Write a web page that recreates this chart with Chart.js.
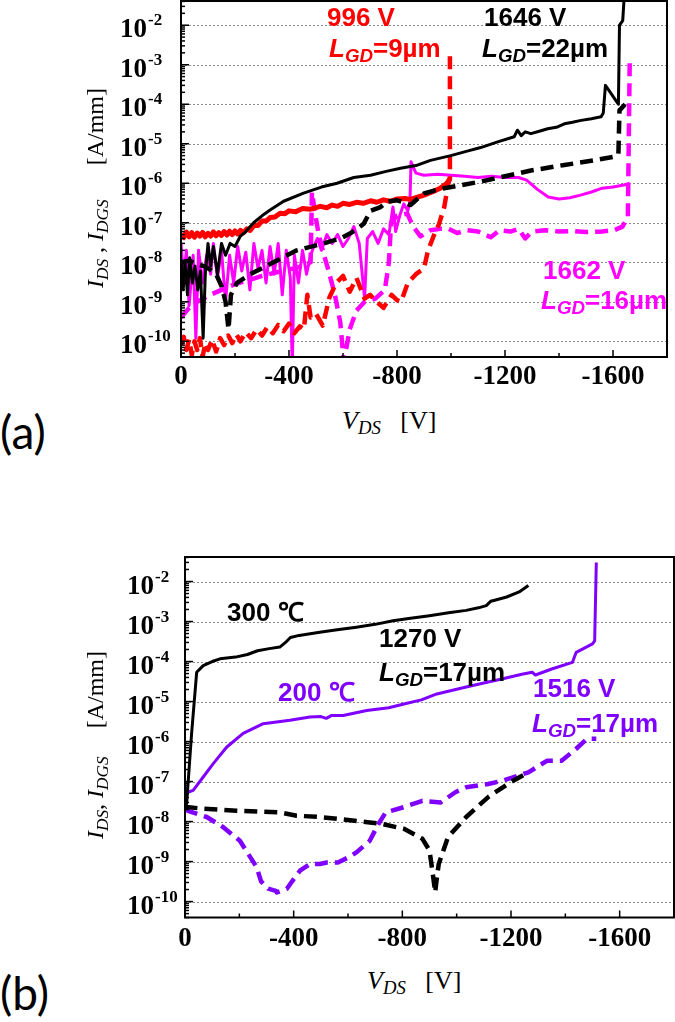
<!DOCTYPE html>
<html lang="en">
<head>
    <meta charset="UTF-8">
    <title>Off-state leakage and breakdown</title>
    <script src="https://cdn.jsdelivr.net/npm/chart.js"></script>
    <style>
        body {
            margin: 0;
            background: #fff;
            width: 675px;
            height: 1022px;
            position: relative;
            overflow: hidden;
        }
        .panel { position: absolute; left: 0; width: 675px; }
        #boxA { top: 0; height: 400px; }
        #boxB { top: 530px; height: 430px; }
        .lab {
            position: absolute;
            font: bold 26px "Liberation Sans", Arial, sans-serif;
            line-height: 1;
            white-space: nowrap;
        }
        .lab sub, .ttl sub { font-size: 0.72em; vertical-align: -0.28em; line-height: 0; }
        .ttl {
            position: absolute;
            font: 24px "Liberation Serif", "Times New Roman", serif;
            line-height: 1;
            white-space: nowrap;
        }
        .ytl { transform: translate(-50%, -50%) rotate(-90deg); }
        .tag { position: absolute; left: 0; font: 46px Lato, sans-serif; line-height: 1; }
    </style>
</head>
<body>
    <div class="panel" id="boxA"><canvas id="chartA"></canvas></div>
    <div class="panel" id="boxB"><canvas id="chartB"></canvas></div>

    <!-- panel (a) text -->
    <div class="lab" style="left:327px; top:4px; color:#ff0000">996 V</div>
    <div class="lab" style="left:329px; top:35px; color:#ff0000"><i>L</i><sub><i>GD</i></sub>=9µm</div>
    <div class="lab" style="left:484px; top:4px">1646 V</div>
    <div class="lab" style="left:482px; top:35px"><i>L</i><sub><i>GD</i></sub>=22µm</div>
    <div class="lab" style="left:543px; top:257px; color:#ff00ff">1662 V</div>
    <div class="lab" style="left:541px; top:287px; color:#ff00ff"><i>L</i><sub><i>GD</i></sub>=16µm</div>
    <div class="ttl ytl" style="left:95px; top:188px"><i>I</i><sub><i>DS</i></sub> , <i>I</i><sub><i>DGS</i></sub><span style="margin-left:34px">[A/mm]</span></div>
    <div class="ttl" style="left:342px; top:408px; font-size:26px"><i>V</i><sub><i>DS</i></sub>&nbsp;&nbsp;&nbsp;[V]</div>
    <div class="tag" style="top:409px">(a)</div>

    <!-- panel (b) text -->
    <div class="lab" style="left:227px; top:599px">300 ℃</div>
    <div class="lab" style="left:379px; top:625px">1270 V</div>
    <div class="lab" style="left:379px; top:659px"><i>L</i><sub><i>GD</i></sub>=17µm</div>
    <div class="lab" style="left:278px; top:679px; color:#7f00ff">200 ℃</div>
    <div class="lab" style="left:533px; top:675px; color:#7f00ff">1516 V</div>
    <div class="lab" style="left:532px; top:710px; color:#7f00ff"><i>L</i><sub><i>GD</i></sub>=17µm</div>
    <div class="ttl ytl" style="left:95px; top:745px"><i>I</i><sub><i>DS</i></sub>, <i>I</i><sub><i>DGS</i></sub><span style="margin-left:28px">[A/mm]</span></div>
    <div class="ttl" style="left:367px; top:968px; font-size:26px"><i>V</i><sub><i>DS</i></sub>&nbsp;&nbsp;&nbsp;[V]</div>
    <div class="tag" style="top:970px">(b)</div>

    <script>
        // axes
        const xMin = -1800, xMax = 0;
        const yMin = 4e-11, yMax = 4.1e-2;
        const xTicks = [0, -400, -800, -1200, -1600];
        const yExps = [-10, -9, -8, -7, -6, -5, -4, -3, -2];

        // (a) LGD = 22 um, IDS (solid) / IDGS (dashed)
        const a22V = [0, -8, -16, -24, -32, -42, -52, -62, -72, -82, -90, -100, -110, -120, -135, -150, -165, -182, -200, -219, -240, -269, -300, -330, -380, -454, -520, -578, -640, -702, -760, -813, -870, -924, -999, -1060, -1110, -1170, -1234, -1246, -1260, -1275, -1296, -1330, -1358, -1390, -1420, -1450, -1482, -1520, -1556, -1564, -1572, -1590, -1612, -1620, -1624, -1636, -1642];
        const a22I = [1.2e-8, 2e-9, 9e-9, 1.5e-9, 1.3e-8, 3e-9, 8e-9, 2e-9, 6e-9, 1.2e-10, 5e-9, 3e-8, 8e-9, 2.5e-8, 5e-9, 3e-8, 1.5e-8, 3e-8, 2.5e-8, 4.5e-8, 6e-8, 1e-7, 1.5e-7, 2.1e-7, 3.5e-7, 5.6e-7, 8e-7, 1e-6, 1.4e-6, 1.6e-6, 2e-6, 2.4e-6, 2.8e-6, 3.8e-6, 5e-6, 6.5e-6, 8e-6, 1.1e-5, 1.5e-5, 2.2e-5, 1.6e-5, 2e-5, 1.8e-5, 2.1e-5, 2.4e-5, 2.6e-5, 3.2e-5, 3.5e-5, 3.9e-5, 4.3e-5, 4.8e-5, 6e-5, 3e-4, 2e-4, 1.2e-4, 1e-4, 1e-2, 1.3e-2, 6e-2];
        const a22gV = [0, -30, -58, -85, -108, -130, -150, -165, -176, -185, -207, -256, -330, -429, -528, -590, -627, -652, -677, -702, -739, -763, -800, -825, -850, -875, -900, -961, -1040, -1110, -1200, -1296, -1420, -1530, -1605, -1620, -1624, -1645];
        const a22gI = [1e-8, 1.1e-8, 9e-9, 8e-9, 6.5e-9, 5e-9, 2.5e-9, 1e-9, 2e-10, 1.5e-9, 3e-9, 5e-9, 9e-9, 2e-8, 3e-8, 4e-8, 5.4e-8, 7e-8, 9.5e-8, 2e-7, 2.5e-7, 3.4e-7, 3.7e-7, 3.3e-7, 2.8e-7, 4e-7, 5.5e-7, 7.2e-7, 9e-7, 1.1e-6, 1.5e-6, 2.1e-6, 2.9e-6, 3.8e-6, 4.7e-6, 5.5e-6, 7e-5, 1e-4];

        // (a) LGD = 9 um
        const a9V = [0, -10, -20, -30, -40, -50, -60, -70, -80, -90, -100, -110, -120, -130, -140, -150, -160, -170, -180, -190, -200, -210, -220, -232, -244, -256, -270, -285, -300, -315, -330, -348, -367, -385, -400, -425, -450, -480, -516, -540, -560, -580, -600, -625, -650, -675, -702, -725, -750, -775, -800, -830, -850, -870, -900, -930, -960, -985, -996];
        const a9I = [5.2e-8, 4.2e-8, 5.8e-8, 4.4e-8, 5.6e-8, 4.3e-8, 5.5e-8, 4.6e-8, 5.7e-8, 4.4e-8, 5.4e-8, 4.6e-8, 5.9e-8, 4.7e-8, 5.6e-8, 4.8e-8, 6e-8, 4.9e-8, 6.1e-8, 5e-8, 6.2e-8, 5.2e-8, 6.4e-8, 5.6e-8, 7e-8, 6.4e-8, 8.5e-8, 8.5e-8, 1.1e-7, 1.1e-7, 1.35e-7, 1.4e-7, 1.75e-7, 1.7e-7, 2e-7, 1.9e-7, 2.3e-7, 2.2e-7, 2.6e-7, 2.4e-7, 2.8e-7, 2.6e-7, 3.1e-7, 2.9e-7, 3.3e-7, 3.1e-7, 3.6e-7, 3.3e-7, 3.8e-7, 3.5e-7, 4e-7, 4.1e-7, 3.9e-7, 4.3e-7, 5e-7, 6e-7, 7.5e-7, 1e-6, 1.3e-6];
        const a9gV = [0, -10, -20, -30, -40, -50, -60, -70, -80, -90, -100, -115, -130, -145, -160, -175, -190, -205, -220, -240, -260, -280, -300, -320, -340, -360, -380, -400, -420, -440, -455, -468, -480, -500, -525, -550, -575, -600, -625, -650, -680, -700, -725, -750, -780, -800, -815, -840, -870, -900, -915, -935, -955, -975, -990, -996, -996];
        const a9gI = [8e-11, 1.3e-10, 6e-11, 1.1e-10, 4.5e-11, 1e-10, 6e-11, 1.2e-10, 4e-11, 9e-11, 6e-11, 1.1e-10, 5.5e-11, 1.2e-10, 8e-11, 1.4e-10, 9e-11, 1.5e-10, 1e-10, 1.7e-10, 1.2e-10, 2e-10, 1.4e-10, 2.3e-10, 1.6e-10, 2.6e-10, 1.8e-10, 2.8e-10, 1.6e-10, 2.4e-10, 2e-10, 1.5e-9, 4e-10, 5e-10, 2.5e-10, 1.3e-9, 3e-9, 4.5e-9, 1.8e-9, 4e-9, 1.2e-9, 1.5e-9, 1e-9, 7e-10, 1.5e-9, 1.1e-9, 1e-9, 3e-9, 5e-9, 7e-9, 2e-8, 4.5e-8, 9e-8, 2.5e-7, 1e-6, 1.3e-6, 2.1e-3];

        // (a) LGD = 16 um
        const a16V = [0, -10, -20, -30, -45, -55, -65, -80, -95, -110, -120, -135, -150, -165, -180, -195, -210, -225, -240, -255, -270, -285, -300, -315, -330, -345, -360, -375, -390, -405, -412, -420, -435, -450, -465, -480, -492, -505, -520, -540, -560, -580, -600, -620, -640, -660, -680, -690, -710, -730, -750, -770, -785, -795, -810, -825, -840, -848, -852, -870, -900, -950, -1000, -1050, -1100, -1150, -1200, -1250, -1280, -1320, -1360, -1400, -1440, -1480, -1520, -1560, -1600, -1640, -1662];
        const a16I = [3e-8, 4e-9, 2e-8, 8e-10, 1.5e-8, 1.2e-10, 2e-8, 3e-9, 1.5e-8, 5e-9, 3e-8, 4e-9, 2e-8, 1e-9, 1.5e-8, 3e-9, 2.5e-8, 6e-9, 1.8e-8, 2e-9, 3e-8, 7e-9, 2e-8, 3e-9, 2.5e-8, 5e-9, 3e-8, 1.5e-9, 2e-8, 4e-9, 2e-11, 1.5e-8, 3e-9, 2e-8, 5e-9, 1.5e-8, 2.5e-8, 4e-8, 2e-8, 5e-8, 3e-8, 5e-8, 2.5e-8, 4e-8, 8e-8, 3e-8, 1.2e-9, 4e-8, 6e-8, 3e-8, 7e-8, 5e-8, 2.5e-7, 6e-8, 1.5e-7, 3e-7, 2e-7, 3.5e-7, 3.5e-6, 1.8e-6, 1.6e-6, 1.7e-6, 1.6e-6, 1.5e-6, 1.4e-6, 1.5e-6, 1.4e-6, 1.4e-6, 1.2e-6, 7e-7, 4.5e-7, 4e-7, 4.3e-7, 5e-7, 6e-7, 7.5e-7, 8e-7, 9e-7, 1e-6];
        const a16gV = [0, -30, -60, -100, -150, -200, -250, -300, -350, -400, -450, -480, -485, -495, -510, -530, -550, -570, -590, -603, -625, -650, -680, -720, -755, -770, -778, -800, -838, -860, -887, -924, -960, -992, -1023, -1060, -1100, -1147, -1180, -1220, -1250, -1275, -1300, -1350, -1400, -1450, -1500, -1560, -1605, -1635, -1655, -1662];
        const a16gI = [4e-10, 7e-10, 1e-9, 1.4e-9, 2e-9, 2.8e-9, 3.5e-9, 4.5e-9, 5.5e-9, 6.5e-9, 8e-9, 1e-8, 6e-7, 2e-7, 5e-8, 1.5e-8, 5e-9, 1.5e-9, 3e-10, 3e-11, 2e-10, 6e-10, 1e-9, 1.2e-9, 2e-9, 1e-8, 1e-7, 1.5e-7, 1.7e-7, 8e-8, 4.5e-8, 6.5e-8, 7e-8, 7e-8, 5.5e-8, 6.5e-8, 6e-8, 4.3e-8, 6.5e-8, 6e-8, 7e-8, 4e-8, 6e-8, 6.5e-8, 6e-8, 6.2e-8, 5.8e-8, 6e-8, 6.5e-8, 8e-8, 1.4e-7, 1.4e-3];

        // (b) LGD = 17 um at 300 C
        const b300V = [0, -6, -24, -43, -67, -100, -129, -186, -230, -267, -310, -349, -370, -388, -420, -496, -560, -631, -700, -766, -830, -900, -970, -1035, -1080, -1109, -1125, -1140, -1184, -1230, -1264];
        const b300I = [2.3e-8, 2.8e-8, 1.5e-6, 5.4e-5, 7.9e-5, 1e-4, 1.17e-4, 1.29e-4, 1.5e-4, 1.86e-4, 2.1e-4, 2.3e-4, 3e-4, 4e-4, 4.5e-4, 5.4e-4, 6.2e-4, 7.2e-4, 8.5e-4, 1.05e-3, 1.2e-3, 1.4e-3, 1.65e-3, 1.9e-3, 2.2e-3, 2.5e-3, 3.2e-3, 3.4e-3, 4.1e-3, 5.5e-3, 7.9e-3];
        const b300gV = [0, -6, -67, -190, -349, -411, -496, -600, -680, -725, -806, -874, -900, -912, -921, -925, -934, -968, -1035, -1116, -1197, -1264];
        const b300gI = [2.5e-8, 2.3e-8, 2.1e-8, 1.86e-8, 1.7e-8, 1.4e-8, 1.3e-8, 1.1e-8, 9.5e-9, 8.7e-9, 6.6e-9, 3.7e-9, 1.9e-9, 5e-10, 1.7e-10, 3e-10, 8.7e-10, 4.1e-9, 1.3e-8, 4.1e-8, 9.5e-8, 1.7e-7];

        // (b) LGD = 17 um at 200 C
        const b200V = [-5, -11, -30, -67, -104, -153, -214, -288, -386, -460, -500, -520, -540, -582, -669, -750, -806, -870, -927, -1035, -1100, -1170, -1240, -1278, -1290, -1350, -1426, -1440, -1500, -1508, -1514];
        const b200I = [5e-8, 5.4e-8, 6e-8, 1.3e-7, 2.8e-7, 7.2e-7, 1.6e-6, 2.8e-6, 3.4e-6, 4.1e-6, 4.2e-6, 3.8e-6, 4.5e-6, 4.5e-6, 6e-6, 7e-6, 8.7e-6, 1.1e-5, 1.55e-5, 2.3e-5, 2.9e-5, 3.7e-5, 4.8e-5, 5.4e-5, 4.6e-5, 6.5e-5, 9.5e-5, 1.7e-4, 2.75e-4, 3.3e-4, 3e-2];
        const b200gV = [0, -11, -80, -141, -202, -264, -280, -306, -334, -338, -375, -388, -423, -460, -496, -522, -563, -600, -631, -680, -712, -739, -806, -874, -941, -995, -1035, -1116, -1170, -1264, -1332, -1386, -1440, -1480, -1514];
        const b200gI = [2e-8, 1.86e-8, 1.3e-8, 7.2e-9, 3.3e-9, 7.2e-10, 3.2e-10, 2.1e-10, 1.86e-10, 1.7e-10, 2.1e-10, 2.8e-10, 5.9e-10, 8.7e-10, 8.7e-10, 9.5e-10, 9.5e-10, 1.26e-9, 1.7e-9, 3.3e-9, 8.7e-9, 1.7e-8, 2.3e-8, 3.3e-8, 3e-8, 5.4e-8, 7.2e-8, 8.7e-8, 1.05e-7, 1.7e-7, 3.3e-7, 3.3e-7, 6.6e-7, 1.17e-6, 1.17e-6];

        const pts = (V, I) => V.map((v, k) => ({ x: v, y: I[k] }));
        const solid = (V, I, color, w) => ({ data: pts(V, I), borderColor: color, borderWidth: w || 3, fill: false });
        const dashed = (V, I, color) => ({ data: pts(V, I), borderColor: color, borderWidth: 4.5, borderDash: [13, 7], fill: false });

        // dotted decade grid, inward ticks, frame and 10^n labels
        const framePlugin = {
            id: 'frame',
            beforeDatasetsDraw(chart) {
                const { ctx, chartArea: a, scales: { y } } = chart;
                ctx.save();
                ctx.strokeStyle = '#8a8a8a';
                ctx.lineWidth = 1;
                ctx.setLineDash([2, 2]);
                yExps.forEach(e => {
                    const py = Math.round(y.getPixelForValue(Math.pow(10, e))) + 0.5;
                    ctx.beginPath();
                    ctx.moveTo(a.left, py);
                    ctx.lineTo(a.right, py);
                    ctx.stroke();
                });
                ctx.restore();
            },
            afterDatasetsDraw(chart, args, opts) {
                const { ctx, chartArea: a, scales: { x, y } } = chart;
                ctx.save();
                ctx.strokeStyle = '#000';
                ctx.lineWidth = 1.5;
                for (let e = -11; e <= -2; e++) {
                    for (let k = 1; k <= 9; k++) {
                        const v = k * Math.pow(10, e);
                        if (v < yMin || v > yMax) continue;
                        const py = y.getPixelForValue(v);
                        ctx.beginPath();
                        ctx.moveTo(a.left, py);
                        ctx.lineTo(a.left + (k === 1 ? 8 : 4), py);
                        ctx.stroke();
                    }
                }
                for (let v = 0; v > xMin; v -= 200) {
                    const px = x.getPixelForValue(v);
                    ctx.beginPath();
                    ctx.moveTo(px, a.bottom);
                    ctx.lineTo(px, a.bottom - (v % 400 === 0 ? 7 : 4));
                    ctx.stroke();
                }
                ctx.lineWidth = 2;
                ctx.strokeRect(a.left, a.top, a.right - a.left, a.bottom - a.top);

                ctx.fillStyle = '#000';
                ctx.textAlign = 'left';
                ctx.textBaseline = 'alphabetic';
                yExps.forEach(e => {
                    const py = y.getPixelForValue(Math.pow(10, e));
                    ctx.font = 'bold 27px "Liberation Serif", serif';
                    ctx.fillText('10', opts.labelX, py + 12);
                    const w = ctx.measureText('10').width;
                    ctx.font = 'bold 17px "Liberation Serif", serif';
                    ctx.fillText(String(e), opts.labelX + w + 1, py);
                });
                ctx.restore();
            }
        };

        function buildChart(id, datasets, area) {
            const canvas = document.getElementById(id);
            const W = canvas.parentNode.clientWidth;
            const H = canvas.parentNode.clientHeight;
            return new Chart(canvas, {
                type: 'line',
                data: { datasets: datasets },
                options: {
                    responsive: true,
                    maintainAspectRatio: false,
                    animation: false,
                    layout: { padding: { top: area.top, right: W - area.right, left: 0, bottom: 0 } },
                    elements: { point: { radius: 0 }, line: { tension: 0, borderJoinStyle: 'round' } },
                    plugins: {
                        legend: { display: false },
                        tooltip: { enabled: false },
                        frame: { labelX: area.labelX }
                    },
                    scales: {
                        x: {
                            type: 'linear',
                            min: xMin,
                            max: xMax,
                            reverse: true,
                            afterBuildTicks: s => { s.ticks = xTicks.map(v => ({ value: v })); },
                            afterFit: s => { s.height = H - area.bottom; },
                            grid: { display: false, drawTicks: false },
                            border: { display: false },
                            ticks: {
                                autoSkip: false,
                                maxRotation: 0,
                                padding: area.tickPad,
                                color: '#000',
                                font: { family: '"Liberation Serif", serif', weight: 'bold', size: 27 },
                                callback: v => String(v)
                            }
                        },
                        y: {
                            type: 'logarithmic',
                            min: yMin,
                            max: yMax,
                            afterFit: s => { s.width = area.left; },
                            grid: { display: false, drawTicks: false },
                            border: { display: false },
                            ticks: { display: false }
                        }
                    }
                },
                plugins: [framePlugin]
            });
        }

        buildChart('chartA', [
            solid(a22V, a22I, '#000000'),
            dashed(a22gV, a22gI, '#000000'),
            dashed(a9gV, a9gI, '#ff0000'),
            solid(a9V, a9I, '#ff0000', 5),
            solid(a16V, a16I, '#ff00ff'),
            dashed(a16gV, a16gI, '#ff00ff')
        ], { left: 181, right: 667, top: 1, bottom: 357, tickPad: 4, labelX: 120 });

        buildChart('chartB', [
            solid(b300V, b300I, '#000000', 3),
            dashed(b300gV, b300gI, '#000000'),
            solid(b200V, b200I, '#7f00ff', 3),
            dashed(b200gV, b200gI, '#7f00ff')
        ], { left: 185, right: 674, top: 27, bottom: 387.5, tickPad: 5, labelX: 127 });
    </script>
</body>
</html>
